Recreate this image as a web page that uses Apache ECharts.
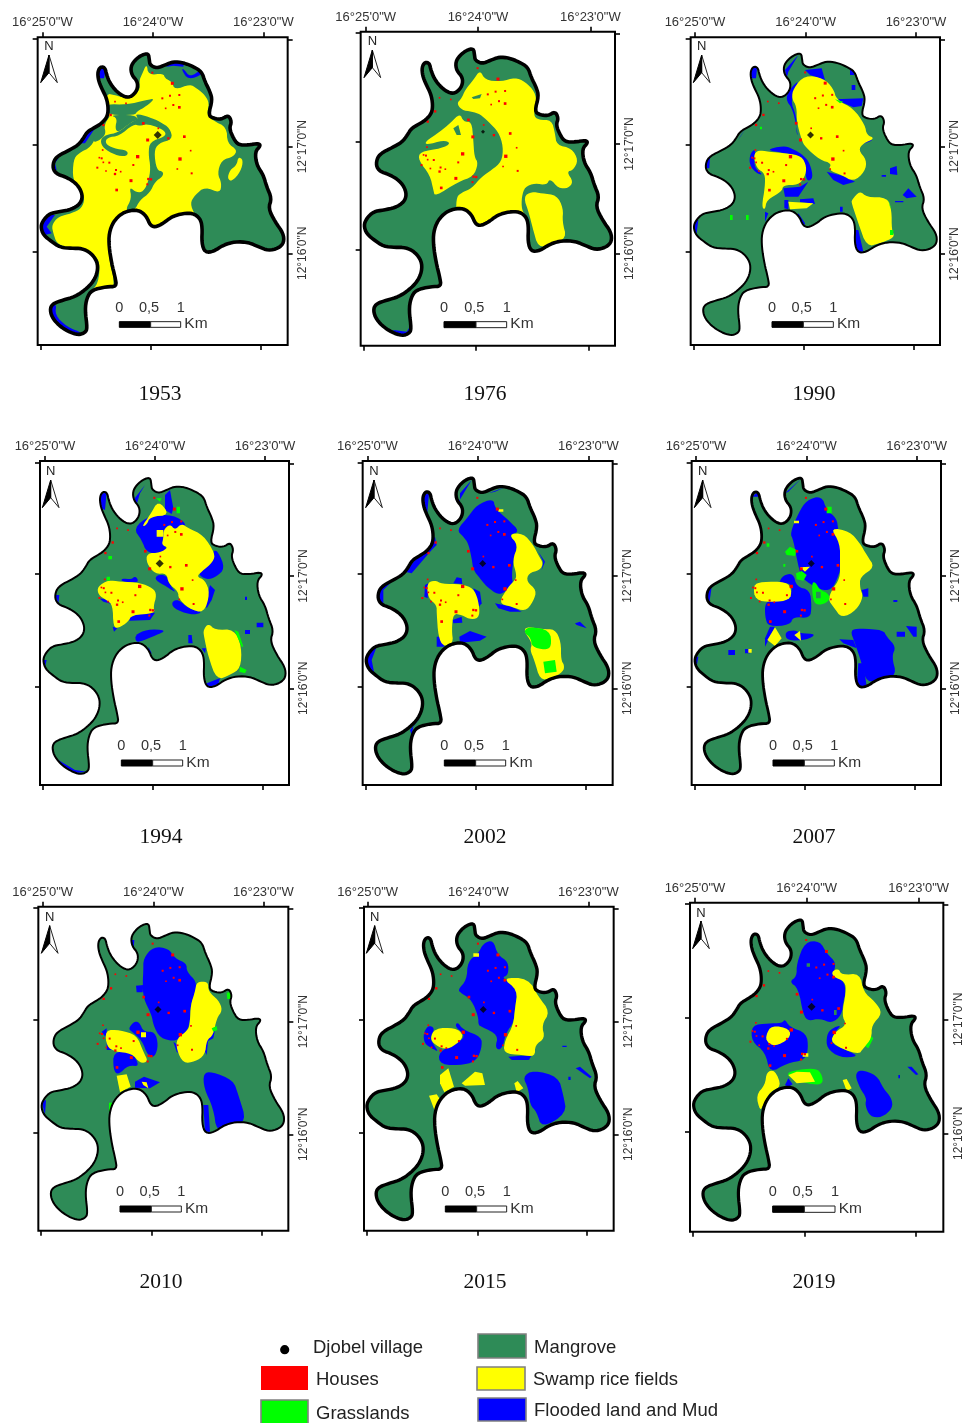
<!DOCTYPE html>
<html><head><meta charset="utf-8">
<style>html,body{margin:0;padding:0;background:#fff}#c{width:973px;height:1423px}</style>
<script src="https://cdn.jsdelivr.net/npm/echarts@6/dist/echarts.min.js"></script>
</head><body><div id="c"></div>
<script>
// ---------- values read from the maps (map units: 1/330 arc-minute approx.) ----------
const years=[1953,1976,1990,1994,2002,2007,2010,2015,2019];
const lonLabels=['16°25\'0"W','16°24\'0"W','16°23\'0"W'];
const latLabels=['12°17\'0"N','12°16\'0"N'];
const legendLeft=['Djobel village','Houses','Grasslands'];
const legendRight=['Mangrove','Swamp rice fields','Flooded land and Mud'];
const scaleLabels=['0','0,5','1'];

const islandOutline=[[122,680],[130,660],[150,640],[180,635],[215,628],[240,612],[248,590],[240,565],[222,545],[195,530],[170,522],[158,505],[162,480],[178,465],[205,452],[235,435],[250,415],[262,395],[285,382],[305,370],[322,350],[325,325],[320,295],[305,265],[295,240],[293,215],[302,200],[315,203],[320,225],[330,250],[350,275],[375,292],[395,290],[412,270],[413,245],[395,225],[392,200],[405,180],[425,165],[445,160],[448,180],[450,195],[470,205],[495,195],[520,185],[550,188],[580,200],[605,215],[615,245],[630,275],[637,300],[625,345],[640,355],[665,358],[685,345],[695,365],[688,385],[700,415],[715,435],[745,435],[775,430],[782,437],[765,455],[770,495],[790,525],[800,560],[815,595],[805,625],[825,665],[850,700],[852,728],[835,745],[805,752],[775,740],[745,727],[705,725],[670,735],[640,755],[615,757],[605,730],[607,680],[600,655],[580,640],[550,640],[515,650],[490,670],[465,682],[450,675],[440,650],[420,632],[395,630],[365,640],[340,665],[327,700],[327,740],[335,790],[345,830],[350,860],[320,860],[275,870],[260,895],[255,930],[262,985],[255,998],[235,1005],[205,995],[175,975],[155,950],[150,925],[160,910],[190,900],[225,890],[255,870],[280,845],[293,815],[292,785],[272,758],[245,745],[215,745],[180,742],[155,725],[130,705]];
const houses=[[457,218,3],[517,250,6],[538,285,3],[510,287,3],[487,295,3],[520,315,3],[538,322,5],[497,325,2],[345,305,2],[378,310,2],[332,345,4],[310,375,4],[430,370,5],[475,385,2],[505,415,4],[443,420,6],[553,410,5],[413,470,7],[540,477,7],[572,452,2],[305,475,3],[298,473,2],[310,487,2],[328,488,3],[292,503,3],[318,513,2],[348,510,3],[345,522,4],[362,515,2],[400,495,3],[393,542,6],[445,537,4],[453,538,4],[442,553,3],[350,570,5],[575,520,3],[532,507,2],[308,450,2]];
const village=[473,405];

const rice1953=[[268,880],[295,850],[300,790],[285,765],[255,748],[200,742],[170,730],[160,700],[155,675],[175,650],[215,640],[245,625],[255,595],[240,565],[218,540],[220,480],[235,460],[275,440],[290,400],[305,375],[318,345],[318,280],[345,285],[375,295],[420,275],[418,240],[425,225],[440,190],[445,225],[490,220],[495,235],[515,245],[525,270],[570,252],[590,265],[615,285],[628,310],[620,345],[640,362],[680,382],[682,430],[712,450],[700,470],[665,480],[652,520],[665,550],[660,580],[615,560],[585,585],[570,610],[585,645],[600,665],[500,700],[450,690],[400,650],[340,680],[320,750],[352,880]];
const rice1953b=[[715,470],[730,480],[722,515],[695,545],[682,535],[690,510],[710,495]];
const mangrove1953=[[[300,420],[318,404],[355,398],[395,365],[415,358],[405,340],[450,352],[480,365],[510,385],[518,418],[475,430],[462,455],[470,510],[490,515],[488,530],[465,545],[450,578],[420,600],[403,632],[375,632],[395,595],[388,560],[410,578],[430,575],[445,545],[452,505],[445,460],[450,425],[495,410],[497,395],[470,380],[440,372],[420,378],[400,372],[358,408],[322,412],[315,430],[340,445],[385,452],[380,470],[345,465],[310,445]],[[285,392],[310,368],[322,350],[332,345],[312,375],[318,402],[300,420],[278,428]],[[320,312],[380,314],[440,300],[465,295],[440,318],[410,335],[405,345],[330,345],[320,330]],[[330,345],[405,345],[415,360],[395,365],[355,398],[345,385],[352,355]]];
const flood1953=[[[285,195],[320,195],[312,235],[296,235]],[[495,180],[555,180],[550,200],[520,197],[500,200]],[[550,205],[570,232],[605,208],[610,222],[565,240],[545,210]],[[240,430],[255,430],[285,385],[265,380]],[[150,510],[170,510],[165,490],[182,465],[150,470]],[[115,710],[155,700],[140,680],[165,645],[130,640]],[[145,915],[170,910],[165,945],[200,980],[250,1000],[235,1010],[150,970]]];

const rice1976=[[[420,270],[445,240],[465,210],[480,240],[530,245],[570,232],[600,245],[630,275],[635,315],[625,345],[640,360],[680,360],[690,400],[695,435],[740,445],[760,480],[745,510],[725,515],[745,545],[730,565],[700,565],[675,535],[665,555],[630,550],[600,560],[590,590],[590,630],[605,650],[560,660],[510,670],[465,690],[440,660],[420,640],[393,635],[395,590],[410,578],[440,565],[470,530],[500,510],[530,485],[535,440],[520,395],[490,365],[465,342],[440,335],[410,330],[395,310],[410,295]],[[300,425],[345,395],[375,370],[405,340],[415,365],[440,365],[445,420],[448,470],[460,490],[445,530],[400,545],[330,590],[325,570],[315,525],[280,480],[285,455],[350,445],[378,430],[355,420],[305,435]],[[595,590],[620,575],[650,580],[695,585],[715,625],[712,665],[725,715],[680,730],[640,745],[622,680],[612,640]]];
const mangrove1976=[[[385,385],[400,375],[408,405],[395,405]],[[440,292],[470,282],[465,295],[445,297]]];
const flood1976=[[[205,990],[245,995],[258,975],[255,1005],[210,1005]]];

const flood1990=[[[425,260],[450,240],[420,300],[440,350],[438,390],[445,415],[430,330],[405,296]],[[465,210],[515,205],[525,240],[480,225]],[[555,298],[640,295],[635,318],[610,322]],[[600,210],[612,210],[612,225],[600,225]],[[605,255],[616,255],[616,270],[605,270]],[[530,515],[580,528],[615,545],[580,555],[550,540]],[[630,435],[665,422],[650,405]],[[300,460],[318,445],[310,500],[340,525],[320,520],[298,495]],[[345,450],[400,437],[425,445],[460,465],[480,490],[490,535],[470,545],[465,505],[450,470],[410,460]],[[400,565],[450,560],[475,545],[445,590],[405,590]],[[403,600],[415,600],[415,628],[403,625]],[[450,598],[490,595],[495,612],[450,606]],[[720,505],[740,498],[742,525],[720,522]],[[695,525],[708,525],[708,530],[695,530]],[[758,585],[775,565],[800,590],[770,595]],[[735,603],[760,603],[760,607],[735,607]],[[610,690],[625,690],[640,755],[615,755]],[[445,640],[465,670],[460,680],[440,650]],[[345,635],[355,640],[345,665]],[[130,660],[145,660],[140,700],[125,700]],[[170,480],[180,470],[178,505],[165,505]],[[300,205],[322,195],[318,235],[305,235]],[[405,210],[445,165],[415,215],[410,235]],[[265,420],[290,380],[270,410]],[[570,620],[578,620],[578,635],[570,635]]];
const rice1990=[[[430,265],[465,225],[520,235],[550,265],[560,300],[610,325],[645,375],[650,405],[675,415],[640,430],[625,450],[650,480],[645,515],[610,545],[575,525],[535,510],[545,490],[510,480],[465,440],[455,420],[440,365],[440,320],[425,295]],[[310,465],[325,450],[355,455],[410,460],[455,468],[470,500],[465,530],[445,555],[400,555],[395,575],[350,600],[345,630],[335,620],[345,560],[345,520],[320,505]],[[415,605],[490,610],[470,625],[420,628]],[[605,600],[630,572],[650,592],[712,592],[725,630],[725,690],[735,712],[690,730],[650,740],[625,670],[605,610]]];
const grass1990=[[[720,690],[730,690],[730,705],[720,705]],[[240,645],[248,645],[248,660],[240,660]],[[288,645],[296,645],[296,660],[288,660]],[[555,298],[580,305],[570,310]],[[330,380],[336,380],[336,388],[330,388]],[[712,592],[720,620],[725,630]]];

const flood1994=[[[400,295],[450,255],[520,255],[560,280],[545,300],[485,340],[510,365],[480,370],[440,368],[425,330]],[[495,195],[510,180],[520,235],[515,252],[495,240]],[[640,360],[655,365],[675,415],[650,440],[620,450],[590,430],[640,395]],[[470,435],[500,435],[510,465],[530,490],[500,470],[465,450]],[[630,465],[645,480],[635,510],[620,535],[615,520]],[[515,515],[535,508],[565,535],[612,548],[570,555],[520,535]],[[365,445],[395,448],[405,438],[415,450],[410,458],[365,455]],[[388,555],[465,548],[450,570],[388,572]],[[298,505],[325,510],[335,522],[310,515]],[[338,590],[352,595],[342,605]],[[405,615],[440,598],[500,600],[470,615],[420,635],[408,635]],[[565,615],[575,615],[578,640],[565,640]],[[770,578],[790,578],[790,592],[770,592]],[[735,600],[750,600],[750,612],[735,612]],[[735,500],[741,500],[741,510],[735,510]],[[300,195],[320,185],[315,240],[302,235]],[[400,210],[435,165],[420,190],[405,240]],[[130,690],[140,690],[135,710]],[[165,495],[178,495],[175,520]],[[175,990],[225,1020],[260,1025],[220,1030],[175,1000]],[[645,750],[660,745],[655,762],[615,775],[615,762]],[[605,655],[618,655],[615,670]],[[445,650],[455,670],[447,675]]];
const rice1994=[[[425,290],[450,255],[475,210],[510,255],[450,260],[440,285]],[[490,300],[510,282],[525,300],[545,280],[565,295],[610,315],[645,370],[640,395],[605,425],[590,440],[615,450],[630,490],[612,550],[565,535],[535,505],[535,485],[505,460],[500,430],[465,432],[440,400],[440,370],[480,368],[505,352],[485,345],[490,325]],[[470,300],[490,300],[490,320],[470,320]],[[292,470],[325,450],[360,455],[420,458],[460,475],[470,495],[460,530],[465,550],[395,555],[385,575],[355,595],[340,590],[338,525],[320,510],[295,495]],[[610,600],[625,580],[645,600],[703,598],[725,650],[722,715],[690,735],[650,750],[625,680],[612,620]]];
const grass1994=[[[703,600],[715,605],[730,650],[725,650]],[[720,710],[740,720],[735,730],[718,725]],[[325,378],[336,378],[336,388],[325,388]],[[320,440],[330,440],[330,452],[320,452]],[[530,230],[540,230],[540,250],[530,250]],[[468,205],[485,205],[480,215]]];

const flood2002=[[[415,320],[395,300],[430,260],[455,225],[505,205],[510,235],[550,270],[585,305],[550,315],[580,340],[565,390],[560,440],[565,465],[540,485],[520,495],[485,470],[465,445],[445,420],[440,385],[430,340]],[[510,520],[560,530],[590,545],[555,545],[520,535]],[[640,365],[660,395],[650,420],[655,395]],[[385,460],[395,442],[410,445],[412,462]],[[300,465],[310,460],[308,505],[298,500]],[[445,475],[465,485],[470,520],[462,530]],[[383,570],[410,560],[412,578],[385,580]],[[335,620],[345,620],[358,650],[335,650]],[[403,620],[435,603],[485,620],[465,632],[405,638]],[[750,580],[765,575],[785,595],[755,585]],[[295,195],[312,190],[305,270],[298,240]],[[395,225],[440,150],[405,190],[405,235]],[[490,190],[540,172],[510,185]],[[240,425],[330,320],[335,345],[320,360],[260,430]],[[160,475],[200,455],[175,480],[175,520],[165,520]],[[215,560],[240,590],[235,620],[190,645],[230,605]],[[125,670],[155,650],[140,690],[150,740],[125,720]],[[255,900],[290,860],[265,890],[260,915]]];
const rice2002=[[[550,312],[595,310],[625,345],[640,375],[655,400],[645,420],[610,430],[605,455],[635,480],[625,515],[600,545],[560,530],[520,520],[550,470],[570,450],[575,435],[562,390],[580,345]],[[520,238],[535,238],[535,245],[520,245]],[[305,460],[330,450],[350,462],[410,462],[445,475],[460,510],[465,560],[440,570],[410,555],[385,550],[380,600],[385,640],[355,650],[340,620],[335,550],[335,525],[310,505]],[[595,600],[610,590],[650,598],[690,597],[708,635],[708,690],[718,705],[715,725],[680,745],[645,750],[628,690],[615,660],[622,640]]];
const grass2002=[[[595,605],[612,590],[675,600],[680,650],[660,660],[620,650],[618,625]],[[655,695],[690,690],[695,725],[660,730]]];

const flood2007=[[[420,310],[445,250],[470,210],[515,197],[530,240],[560,265],[565,300],[570,340],[575,400],[565,440],[545,480],[510,480],[470,455],[455,440],[445,410],[430,330]],[[385,460],[400,435],[430,430],[440,470],[480,480],[485,530],[480,565],[430,560],[420,585],[355,590],[345,560],[345,520],[365,510],[420,510],[428,460]],[[600,600],[630,595],[700,600],[710,620],[738,650],[725,680],[740,735],[700,745],[650,760],[635,700],[615,640]],[[345,625],[360,590],[375,590],[345,650]],[[405,605],[435,600],[450,610],[500,612],[470,630],[410,632]],[[235,660],[255,660],[255,675],[235,675]],[[285,657],[300,657],[300,670],[285,670]],[[568,628],[610,630],[620,655],[580,640]],[[740,605],[765,605],[765,620],[740,620]],[[768,588],[800,590],[800,620],[790,620]],[[635,480],[655,475],[655,500],[640,500]],[[625,700],[640,700],[650,770],[620,770]],[[730,510],[742,510],[742,516],[730,516]],[[305,200],[325,185],[325,200],[310,200]],[[405,190],[455,145],[440,160],[415,185]],[[135,680],[145,680],[140,710]],[[165,480],[185,470],[178,520]]];
const rice2007=[[[540,292],[600,305],[630,340],[650,375],[675,412],[630,440],[630,475],[640,500],[620,540],[575,565],[550,530],[535,510],[545,480],[570,445],[570,400],[570,340]],[[310,465],[335,455],[410,455],[425,480],[420,510],[365,517],[315,510]],[[352,630],[375,592],[395,625],[375,648]],[[433,615],[450,603],[453,632]],[[432,272],[447,272],[447,280],[432,280]],[[295,657],[305,657],[305,668],[295,668]],[[450,412],[480,410],[465,425]]];
const grass2007=[[[438,430],[455,423],[470,435],[460,452],[440,448]],[[405,365],[420,350],[440,360],[435,378],[410,375]],[[485,460],[495,455],[510,480],[535,490],[540,510],[515,525],[490,520]],[[530,230],[545,230],[545,250],[530,250]],[[350,340],[358,340],[358,350],[350,350]],[[400,402],[406,402],[406,410],[400,410]]];
const mangrove2007=[[[498,485],[512,485],[512,505],[498,505]]];

const flood2010=[[[430,290],[430,250],[460,215],[505,220],[525,250],[560,265],[560,290],[590,320],[585,355],[572,390],[570,440],[560,470],[530,500],[480,490],[460,450],[455,420],[430,370],[428,320]],[[625,470],[645,465],[640,490],[620,500]],[[610,520],[625,490],[620,540]],[[520,500],[545,520],[550,545],[530,530]],[[305,470],[320,460],[320,525],[345,525]],[[385,460],[405,437],[420,445],[430,470],[465,470],[475,510],[465,545],[445,545],[425,495],[395,470]],[[340,530],[395,530],[420,575],[385,570],[355,600],[340,585]],[[405,620],[432,605],[480,622],[450,640],[405,638]],[[610,595],[635,590],[700,615],[715,660],[740,740],[690,750],[650,770],[640,700],[612,640]],[[610,690],[625,690],[630,770],[615,770]],[[408,332],[430,330],[428,352],[410,352]],[[395,195],[403,195],[400,235],[395,235]],[[125,680],[138,675],[135,720]]];
const rice2010=[[[590,320],[625,320],[625,350],[655,375],[668,405],[650,430],[640,480],[620,495],[615,540],[585,560],[550,565],[530,525],[530,490],[565,465],[570,440],[572,390],[585,350]],[[315,465],[360,465],[410,480],[430,530],[445,560],[420,565],[395,535],[345,530],[320,515]],[[350,602],[380,598],[392,635],[360,652]],[[425,620],[440,622],[445,640],[430,630]],[[423,472],[438,472],[438,487],[423,487]]];
const grass2010=[[[635,460],[650,453],[652,465],[640,470]],[[680,355],[692,348],[700,372],[682,372]],[[327,683],[337,683],[335,710],[327,710]]];

const flood2015=[[[398,345],[425,315],[428,260],[460,235],[475,205],[505,195],[518,240],[550,260],[550,300],[530,308],[565,325],[578,345],[570,400],[565,445],[545,470],[530,525],[510,520],[520,480],[470,455],[460,450],[460,425],[440,375],[410,355]],[[550,545],[620,540],[612,555],[560,555]],[[295,475],[310,450],[330,460],[315,490],[330,515],[340,530],[320,520],[298,505]],[[390,455],[397,440],[415,465],[470,485],[470,520],[455,555],[420,570],[345,570],[340,530],[405,500],[420,480]],[[593,605],[625,585],[700,605],[715,660],[725,715],[650,760],[635,710],[615,690],[610,640]],[[752,580],[765,575],[800,605],[795,610]],[[730,605],[737,605],[737,615],[730,615]],[[712,512],[725,512],[725,516],[712,516]]];
const rice2015=[[[530,308],[610,310],[640,365],[675,410],[650,450],[660,490],[630,510],[630,545],[590,540],[535,535],[540,495],[565,450],[570,400],[578,345]],[[315,490],[330,460],[390,458],[415,478],[405,500],[365,525],[330,510]],[[345,600],[370,580],[387,635],[358,652],[345,625]],[[410,625],[450,590],[472,595],[480,630],[420,632]],[[568,625],[578,618],[595,640],[575,652]],[[312,662],[335,658],[343,670],[330,710]],[[445,235],[462,235],[462,245],[445,245]]];

const flood2019=[[[418,320],[440,305],[440,265],[465,200],[510,198],[530,235],[560,265],[545,305],[580,315],[588,350],[580,380],[575,420],[545,445],[510,430],[475,438],[460,420],[445,340]],[[545,460],[575,450],[555,470],[540,505],[600,530],[625,545],[570,548],[530,520],[530,480]],[[305,450],[355,445],[395,445],[405,432],[418,455],[470,475],[475,520],[465,555],[410,565],[360,595],[345,530],[305,500]],[[405,630],[415,610],[428,628],[415,635]],[[615,600],[630,583],[680,600],[700,640],[725,670],[728,700],[695,728],[660,725],[645,690],[650,670],[630,640]],[[772,575],[785,575],[805,598],[798,600]],[[745,600],[750,600],[750,610],[745,610]]];
const grass2019=[[[410,590],[480,580],[510,585],[522,625],[490,630],[420,610]],[[640,510],[660,480],[670,490],[655,520]]];
const rice2019=[[[545,290],[565,280],[575,300],[630,295],[640,350],[675,380],[698,415],[665,450],[665,490],[640,520],[625,540],[540,505],[555,470],[590,450],[575,420],[588,350],[585,320],[550,305]],[[348,480],[365,450],[420,462],[420,490],[375,515],[350,500]],[[458,535],[475,535],[475,545],[458,545]],[[415,600],[440,590],[480,592],[495,620],[440,625]],[[318,660],[345,630],[350,590],[375,585],[395,635],[360,650],[340,690],[330,708]],[[578,615],[590,612],[605,640],[590,648]]];
const mangrove2019=[[[552,405],[560,405],[560,420],[552,420]],[[470,265],[480,265],[480,275],[470,275]]];

// draw order of land-cover classes in each year
const landCover={
 1953:[['rice',[rice1953,rice1953b]],['mangrove',mangrove1953],['flood',flood1953]],
 1976:[['rice',rice1976],['mangrove',mangrove1976],['flood',flood1976]],
 1990:[['flood',flood1990],['rice',rice1990],['grass',grass1990]],
 1994:[['flood',flood1994],['rice',rice1994],['grass',grass1994]],
 2002:[['flood',flood2002],['rice',rice2002],['grass',grass2002]],
 2007:[['flood',flood2007],['rice',rice2007],['grass',grass2007],['mangrove',mangrove2007]],
 2010:[['flood',flood2010],['rice',rice2010],['grass',grass2010]],
 2015:[['flood',flood2015],['rice',rice2015]],
 2019:[['flood',flood2019],['grass',grass2019],['rice',rice2019],['mangrove',mangrove2019]]
};

// ---------- layout ----------
const colors={mangrove:'#2E8B57',rice:'#FFFF00',flood:'#0000FF',grass:'#00FF00',house:'#FF0000'};
const S=1/3;
const panels=[
 {y:1953,ox:0,oy:0,f:[113,863,112,1035],top:[127,459,790],bot:[122,452,782],lef:[115,435,755],rig:[119,440,760],n:[147,140,165],sb:[358,452,542,965,982,925],lw:3.6,yr:[160,394],vs:8},
 {y:1976,ox:325,oy:0,f:[107,870,95,1037],top:[122,459,796],bot:[116,453,790],lef:[98,425,750],rig:[100,432,760],n:[142,125,150],sb:[357,453,545,965,983,925],lw:3.6,yr:[485,394],vs:4},
 {y:1990,ox:650,oy:0,f:[122,870,112,1035],top:[135,467,798],bot:[130,461,792],lef:[115,435,755],rig:[118,440,762],n:[155,140,165],sb:[366,460,550,965,982,925],lw:2,yr:[814,394],vs:7},
 {y:1994,ox:0,oy:430,f:[120,867,93,1065],top:[135,465,795],bot:[127,458,788],lef:[98,432,770],rig:[100,438,775],n:[152,125,150],sb:[364,458,548,990,1008,948],lw:2,yr:[161,837],vs:8},
 {y:2002,ox:325,oy:430,f:[113,863,93,1065],top:[127,459,790],bot:[122,452,782],lef:[98,432,770],rig:[100,438,775],n:[147,125,150],sb:[358,452,542,990,1008,948],lw:3.4,yr:[485,837],vs:7},
 {y:2007,ox:650,oy:430,f:[125,873,93,1065],top:[138,469,800],bot:[133,463,793],lef:[98,432,770],rig:[100,438,775],n:[158,125,150],sb:[369,463,553,990,1008,948],lw:2.8,yr:[814,837],vs:7},
 {y:2010,ox:0,oy:875,f:[115,865,95,1067],top:[128,460,790],bot:[123,455,784],lef:[98,435,772],rig:[100,440,778],n:[149,127,152],sb:[360,454,544,993,1011,950],lw:2,yr:[161,1282],vs:7},
 {y:2015,ox:325,oy:875,f:[117,866,95,1067],top:[128,460,790],bot:[125,457,785],lef:[98,435,772],rig:[100,440,778],n:[149,127,152],sb:[361,455,545,993,1011,950],lw:3.4,yr:[485,1282],vs:7},
 {y:2019,ox:650,oy:875,f:[120,880,83,1070],top:[135,470,806],bot:[128,463,798],lef:[85,427,770],rig:[90,433,775],n:[153,115,138],sb:[368,463,555,993,1012,950],lw:3.2,yr:[814,1282],vs:8}
];
const FONT='"Liberation Sans",Arial,sans-serif';
const refX=[124.5,786],refY=[437.5,757.5];
function mapper(p){
 const x1=(p.top[0]+p.bot[0])/2,x3=(p.top[2]+p.bot[2])/2,y1=(p.lef[1]+p.rig[1])/2,y2=(p.lef[2]+p.rig[2])/2;
 const ax=(x3-x1)/(refX[1]-refX[0]),ay=(y2-y1)/(refY[1]-refY[0]);
 return q=>[x1+(q[0]-refX[0])*ax,y1+(q[1]-refY[0])*ay,q[2]];
}
// corner rounding of a closed ring (Chaikin), only to soften the hand-read vertices
function rounded(pts,n){
 if(pts.length<6) return pts;
 let r=pts;
 for(let t=0;t<n;t++){
  const o=[];
  r.forEach((a,i)=>{const b=r[(i+1)%r.length];
   o.push([a[0]*.75+b[0]*.25,a[1]*.75+b[1]*.25],[a[0]*.25+b[0]*.75,a[1]*.25+b[1]*.75]);});
  r=o;
 }
 return r;
}
function polySeries(i,name,polys,style,clipPts){
 return {type:'custom',name,xAxisIndex:i*2,yAxisIndex:i*2,silent:true,animation:false,clip:false,
  data:polys.map((_,k)=>[k]),
  encode:{x:0,y:0},
  renderItem(params,api){
   const k=api.value(0);
   const pts=rounded(polys[k],2).map(q=>api.coord([q[0],q[1]]));
   const el={type:'polygon',shape:{points:pts},style};
   if(clipPts) el.clipPath={type:'polygon',shape:{points:rounded(clipPts,2).map(q=>api.coord([q[0],q[1]]))}};
   return el;
  }};
}
const grid=[],xAxis=[],yAxis=[],series=[],graphic=[];
panels.forEach((p,i)=>{
 const [L,R,T,B]=p.f, m=mapper(p), outline=islandOutline.map(m);
 grid.push({left:p.ox+L*S,top:p.oy+T*S,width:(R-L)*S,height:(B-T)*S,show:true,borderColor:'#000',borderWidth:2,backgroundColor:'#fff',containLabel:false});
 const tick={show:true,length:5,lineStyle:{color:'#000',width:1.6}};
 const lon=v=>lonLabels[p.top.indexOf(v)]||'';
 const lat=v=>latLabels[p.rig.indexOf(v)-1]||'';
 const base={type:'value',scale:true,splitLine:{show:false},axisLine:{show:false}};
 xAxis.push({...base,gridIndex:i,position:'top',min:L,max:R,axisTick:{...tick,customValues:p.top},
   axisLabel:{show:true,customValues:p.top,formatter:lon,margin:8,fontSize:13,color:'#333',fontFamily:FONT,showMinLabel:true,showMaxLabel:true,hideOverlap:false}});
 xAxis.push({...base,gridIndex:i,position:'bottom',min:L,max:R,axisTick:{...tick,customValues:p.bot},axisLabel:{show:false}});
 yAxis.push({...base,gridIndex:i,position:'right',inverse:true,min:T,max:B,axisTick:{...tick,customValues:p.rig},
   axisLabel:{show:true,customValues:p.rig.slice(1),formatter:lat,rotate:90,margin:9,fontSize:12,color:'#333',fontFamily:FONT,hideOverlap:false}});
 yAxis.push({...base,gridIndex:i,position:'left',inverse:true,min:T,max:B,axisTick:{...tick,customValues:p.lef},axisLabel:{show:false}});
 series.push(polySeries(i,'Mangrove',[outline],{fill:colors.mangrove}));
 landCover[p.y].forEach(([cls,polys])=>series.push(polySeries(i,cls,polys,{fill:colors[cls]},outline)));
 // houses
 const hs=houses.map(m);
 series.push({type:'custom',name:'Houses',xAxisIndex:i*2,yAxisIndex:i*2,silent:true,animation:false,clip:false,data:hs,encode:{x:0,y:1},
  renderItem(params,api){
   const c=api.coord([api.value(0),api.value(1)]), s=api.value(2)*S;
   return {type:'rect',shape:{x:c[0]-s/2-.5,y:c[1]-s/2-.5,width:s+1,height:s+1},style:{fill:colors.house}};
  }});
 series.push(polySeries(i,'Coast',[outline],{fill:'none',stroke:'#000',lineWidth:p.lw,lineJoin:'round'}));
 series.push({type:'scatter',name:'Djobel village',xAxisIndex:i*2,yAxisIndex:i*2,silent:true,animation:false,symbol:'diamond',symbolSize:p.vs,itemStyle:{color:'#000'},data:[m(village).slice(0,2)]});
 // north arrow
 const px=q=>[p.ox+q[0]*S,p.oy+q[1]*S];
 const [nx,ny,ay]=p.n;
 graphic.push({type:'text',style:{text:'N',x:nx*S+p.ox,y:ny*S+p.oy,align:'center',verticalAlign:'middle',font:'13px '+FONT,fill:'#222'}});
 graphic.push({type:'polygon',shape:{points:[[nx,ay],[nx+25,ay+83],[nx,ay+53]].map(px)},style:{fill:'#fff',stroke:'#222',lineWidth:1}});
 graphic.push({type:'polygon',shape:{points:[[nx,ay],[nx-25,ay+83],[nx,ay+53]].map(px)},style:{fill:'#000',stroke:'#000',lineWidth:1}});
 // scale bar
 const [a,b,c,y0,y1,ly]=p.sb;
 graphic.push({type:'rect',shape:{x:a*S+p.ox,y:y0*S+p.oy,width:(b-a)*S,height:(y1-y0)*S},style:{fill:'#000',stroke:'#000',lineWidth:1}});
 graphic.push({type:'rect',shape:{x:b*S+p.ox,y:y0*S+p.oy,width:(c-b)*S,height:(y1-y0)*S},style:{fill:'#fff',stroke:'#222',lineWidth:1}});
 [a,b-5,c].forEach((v,k)=>graphic.push({type:'text',style:{text:scaleLabels[k],x:v*S+p.ox,y:ly*S+p.oy,align:'center',verticalAlign:'middle',font:'14.5px '+FONT,fill:'#333'}}));
 graphic.push({type:'text',style:{text:'Km',x:(c+11)*S+p.ox,y:(y0+(y1-y0)/2-2)*S+p.oy,align:'left',verticalAlign:'middle',font:'15.5px '+FONT,fill:'#333'}});
 // year
 graphic.push({type:'text',style:{text:String(p.y),x:p.yr[0],y:p.yr[1],align:'center',verticalAlign:'middle',font:'21.5px "Liberation Serif","Times New Roman",serif',fill:'#111'}});
});
// legend
const lg=(x,y,w,h,fill,stroke)=>graphic.push({type:'rect',shape:{x,y,width:w,height:h},style:{fill,stroke:stroke||fill,lineWidth:stroke?1.6:0}});
const lt=(t,x,y)=>graphic.push({type:'text',style:{text:t,x,y,align:'left',verticalAlign:'middle',font:'18.5px '+FONT,fill:'#222'}});
graphic.push({type:'circle',shape:{cx:284.7,cy:1349.7,r:4.6},style:{fill:'#000'}});
lt(legendLeft[0],313,1348);
lg(261,1366,47,24,colors.house);lt(legendLeft[1],316,1380);
lg(261,1400,47,24,colors.grass,'#808080');lt(legendLeft[2],316,1414);
lg(478,1334,48,24,colors.mangrove,'#808080');lt(legendRight[0],534,1348);
lg(477,1367,48,23,colors.rice,'#808080');lt(legendRight[1],533,1380);
lg(478,1398,48,23,colors.flood,'#808080');lt(legendRight[2],534,1411);

const chart=echarts.init(document.getElementById('c'),null,{renderer:'canvas'});
chart.setOption({animation:false,backgroundColor:'#fff',grid,xAxis,yAxis,series,graphic:{elements:graphic.map(g=>({...g,z:100}))}});
</script></body></html>
